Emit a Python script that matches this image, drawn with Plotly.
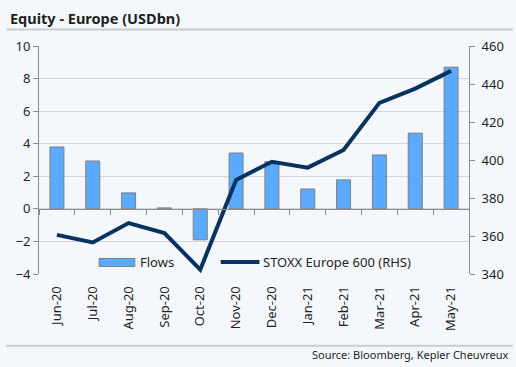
import plotly.graph_objects as go

months = ["Jun-20", "Jul-20", "Aug-20", "Sep-20", "Oct-20", "Nov-20",
          "Dec-20", "Jan-21", "Feb-21", "Mar-21", "Apr-21", "May-21"]
flows = [3.8, 2.94, 0.98, 0.06, -1.9, 3.43, 2.9, 1.22, 1.78, 3.31, 4.65, 8.7]
stoxx = [360.6, 356.6, 366.8, 361.5, 342.3, 389.5, 399.1, 396.0, 405.3, 430.1, 437.6, 446.9]
left_ticks = [-4, -2, 0, 2, 4, 6, 8, 10]
right_ticks = [340, 360, 380, 400, 420, 440, 460]
series_names = ["Flows", "STOXX Europe 600 (RHS)"]

BG = "#F4F8FC"
GRID = "#D3D7DB"
AXIS = "#8C8C8C"
TXT = "#1F1F1F"
BAR = "#5AABFF"
BAR_EDGE = "#7F7F7F"
LINE = "#07335E"
FONT = "Noto Sans"

fig = go.Figure()
fig.add_trace(go.Bar(
    x=months, y=flows, name=series_names[0], xaxis="x", yaxis="y",
    marker=dict(color=BAR, line=dict(color=BAR_EDGE, width=1)),
    width=0.39, showlegend=False,
))
# invisible helper trace so the category axis drawn along y=0 exists
fig.add_trace(go.Scatter(
    x=months, y=[None] * len(months), xaxis="x2", yaxis="y",
    showlegend=False, hoverinfo="skip", mode="lines",
))
fig.add_trace(go.Scatter(
    x=months, y=stoxx, name=series_names[1], xaxis="x", yaxis="y2",
    mode="lines", line=dict(color=LINE, width=4), showlegend=False,
))

PH = 228.0
PW = 433.0
def px(xp):
    return (xp - 39) / PW
def py(yp):
    return (274 - yp) / PH

fig.update_layout(
    width=516, height=367,
    margin=dict(l=39, r=44, t=46, b=93),
    paper_bgcolor=BG, plot_bgcolor=BG,
    font=dict(family=FONT, size=13, color=TXT),
    showlegend=False,
    xaxis=dict(type="category", categoryorder="array", categoryarray=months,
               range=[-0.5, 11.5], showgrid=False, showline=False, zeroline=False,
               tickangle=-90, ticks="outside", ticklen=6, tickcolor="rgba(0,0,0,0)",
               tickfont=dict(size=13, color=TXT)),
    xaxis2=dict(type="category", categoryorder="array", categoryarray=months,
                range=[-0.5, 11.5], overlaying="x", anchor="free", position=4 / 14,
                showgrid=False, showline=True, linecolor=AXIS, linewidth=1,
                ticks="outside", tickson="boundaries", ticklen=5, tickcolor=AXIS,
                showticklabels=False, zeroline=False),
    yaxis=dict(range=[-4, 10], tickvals=left_ticks, showgrid=True, gridcolor=GRID,
               gridwidth=1, zeroline=False, showline=True, linecolor=AXIS,
               ticks="outside", ticklen=5, tickcolor=AXIS,
               tickfont=dict(size=13, color=TXT)),
    yaxis2=dict(range=[340, 460], tickvals=right_ticks, overlaying="y", side="right",
                showgrid=False, zeroline=False, showline=True, linecolor=AXIS,
                ticks="outside", ticklen=5, tickcolor=AXIS, ticklabelstandoff=4,
                tickfont=dict(size=13, color=TXT)),
    shapes=[
        dict(type="line", xref="paper", yref="paper", x0=px(6), x1=px(516),
             y0=py(29.5), y1=py(29.5), line=dict(color="#C9CDD1", width=2)),
        dict(type="line", xref="paper", yref="paper", x0=px(6), x1=px(516),
             y0=py(345.7), y1=py(345.7), line=dict(color="#C9CDD1", width=2)),
        # legend keys
        dict(type="rect", xref="paper", yref="paper", x0=px(99.5), x1=px(135.5),
             y0=py(266.5), y1=py(258.5), fillcolor=BAR,
             line=dict(color=BAR_EDGE, width=1)),
        dict(type="line", xref="paper", yref="paper", x0=px(222), x1=px(261),
             y0=py(262), y1=py(262), line=dict(color=LINE, width=4)),
    ],
    annotations=[
        dict(text="<b>Equity - Europe (USDbn)</b>", xref="paper", yref="paper",
             x=px(8), y=py(17.5), xanchor="left", yanchor="middle",
             showarrow=False, font=dict(family=FONT, size=14.5, color=TXT)),
        dict(text="Source: Bloomberg, Kepler Cheuvreux", xref="paper", yref="paper",
             x=px(514), y=py(354.3), xanchor="right", yanchor="middle",
             showarrow=False, font=dict(family=FONT, size=11, color=TXT)),
        dict(text=series_names[0], xref="paper", yref="paper",
             x=px(139), y=py(262), xanchor="left", yanchor="middle",
             showarrow=False, font=dict(family=FONT, size=13, color=TXT)),
        dict(text=series_names[1], xref="paper", yref="paper",
             x=px(263), y=py(262), xanchor="left", yanchor="middle",
             showarrow=False, font=dict(family=FONT, size=13, color=TXT)),
    ],
)

fig.write_html("out.html", config={"displayModeBar": False},
               post_script="document.body.style.margin='0';")
